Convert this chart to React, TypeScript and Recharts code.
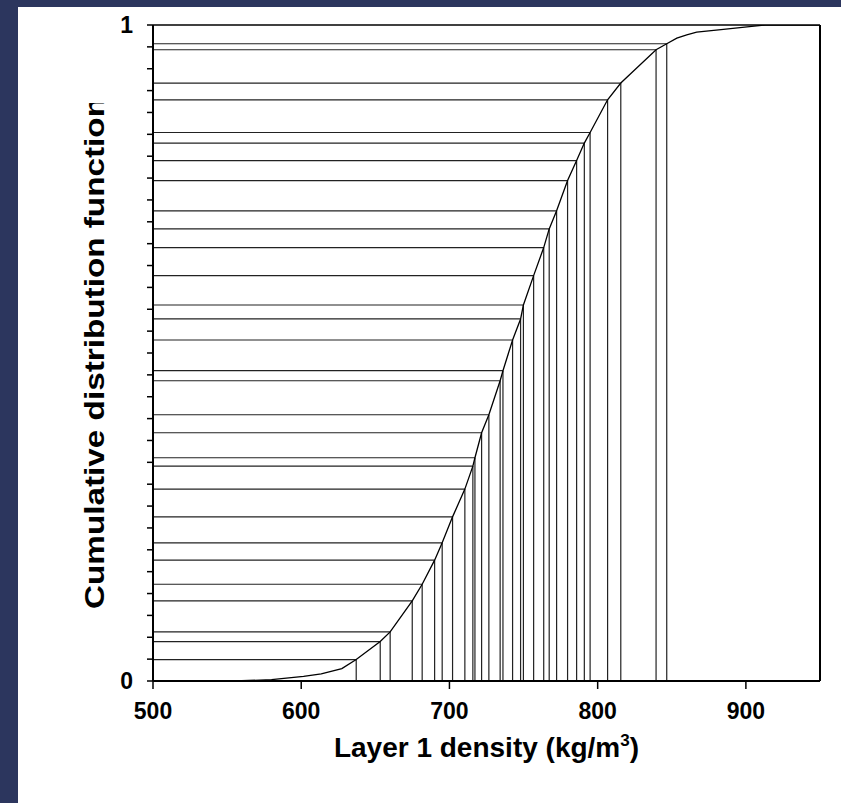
import React from "react";
import { LineChart, Line, XAxis, YAxis, ReferenceLine } from "recharts";

const sampleDensity = [
  637.1, 653.3, 660.0, 674.9, 681.6, 690.0, 695.1, 702.1, 710.4, 715.8,
  717.2, 721.7, 726.6, 734.2, 736.1, 742.6, 748.0, 749.9, 756.8, 763.6,
  767.3, 772.3, 779.7, 785.8, 791.0, 794.9, 806.7, 815.6, 839.4, 846.6,
];
const sampleCdf = [
  0.0327, 0.0601, 0.0748, 0.1221, 0.1475, 0.1842, 0.2106, 0.2502, 0.2925, 0.3276,
  0.3403, 0.3784, 0.4059, 0.4577, 0.473, 0.5198, 0.5519, 0.5732, 0.6179, 0.6607,
  0.6892, 0.7167, 0.7629, 0.7934, 0.82, 0.8361, 0.886, 0.9115, 0.9623, 0.9714,
];

// tails of the fitted curve outside the samples
const lowTailDensity = [500, 555, 580, 601.6, 613.5, 627.4];
const lowTailCdf = [0, 0, 0.002, 0.007, 0.011, 0.019];
const highTailDensity = [853.4, 860.1, 866.8, 883.2, 904, 913, 950];
const highTailCdf = [0.98, 0.985, 0.989, 0.993, 0.998, 1, 1];

const xTicks = [500, 600, 700, 800, 900];
const yTicks = Array.from({ length: 31 }, (_, i) => i / 30);

const curve = [
  ...lowTailDensity.map((x, i) => ({ x, p: lowTailCdf[i] })),
  ...sampleDensity.map((x, i) => ({ x, p: sampleCdf[i] })),
  ...highTailDensity.map((x, i) => ({ x, p: highTailCdf[i] })),
];

const FONT = "'Liberation Sans', Arial, sans-serif";
const NAVY = "#2c365e";

function XTitle(props: any) {
  const vb = props.viewBox;
  return (
    <text
      x={vb.x + vb.width / 2}
      y={vb.y + 76}
      textAnchor="middle"
      fontFamily={FONT}
      fontWeight="bold"
      fontSize={28}
      fill="#000"
    >
      Layer 1 density (kg/m
      <tspan dy={-11} fontSize={17}>3</tspan>
      <tspan dy={11}>)</tspan>
    </text>
  );
}

function YTitle(props: any) {
  const vb = props.viewBox;
  const cx = 104;
  const cy = vb.y + vb.height / 2;
  return (
    <g clipPath="url(#ytitle-clip)">
      <defs>
        <clipPath id="ytitle-clip">
          <rect x={0} y={103} width={150} height={700} />
        </clipPath>
      </defs>
      <text
        x={cx}
        y={cy}
        transform={`rotate(-90 ${cx} ${cy})`}
        textAnchor="middle"
        fontFamily={FONT}
        fontWeight="bold"
        fontSize={28}
        textLength={512}
        lengthAdjust="spacingAndGlyphs"
        fill="#000"
      >
        Cumulative distribution function
      </text>
    </g>
  );
}

export default function App() {
  return (
    <div style={{ position: "absolute", left: 0, top: 0, width: 841, height: 803, background: "#fff", overflow: "hidden" }}>
      <div style={{ position: "absolute", left: 0, top: 0, width: 18, height: 803, background: NAVY }} />
      <div style={{ position: "absolute", left: 0, top: 0, width: 841, height: 7, background: NAVY }} />
      <div style={{ position: "absolute", left: 0, top: 0 }}>
        <LineChart width={841} height={803} data={curve} margin={{ top: 25, right: 21, bottom: 0, left: 0 }}>
          <XAxis
            type="number"
            dataKey="x"
            domain={[500, 950]}
            ticks={xTicks}
            allowDataOverflow
            height={122}
            axisLine={{ stroke: "#000", strokeWidth: 2 }}
            tickLine={{ stroke: "#000", strokeWidth: 1.5 }}
            tickSize={8}
            tickMargin={14}
            tick={{ fill: "#000", fontSize: 23, fontWeight: "bold", fontFamily: FONT }}
            label={{ content: (p: any) => <XTitle {...p} /> }}
          />
          <YAxis
            type="number"
            domain={[0, 1]}
            ticks={yTicks}
            interval={0}
            allowDataOverflow
            width={153}
            axisLine={{ stroke: "#000", strokeWidth: 2 }}
            tickLine={{ stroke: "#000", strokeWidth: 1.5 }}
            tickSize={6}
            tickMargin={14}
            tickFormatter={(v: number) => (v === 0 ? "0" : v === 1 ? "1" : "")}
            tick={{ fill: "#000", fontSize: 23, fontWeight: "bold", fontFamily: FONT }}
            label={{ content: (p: any) => <YTitle {...p} /> }}
          />
          <ReferenceLine y={1} stroke="#000" strokeWidth={1.5} />
          <ReferenceLine x={950} stroke="#000" strokeWidth={2} />
          {sampleDensity.map((d, i) => (
            <ReferenceLine
              key={"h" + i}
              segment={[{ x: 500, y: sampleCdf[i] }, { x: d, y: sampleCdf[i] }]}
              stroke="#222"
              strokeWidth={1.2}
            />
          ))}
          {sampleDensity.map((d, i) => (
            <ReferenceLine
              key={"v" + i}
              segment={[{ x: d, y: sampleCdf[i] }, { x: d, y: 0 }]}
              stroke="#222"
              strokeWidth={1.2}
            />
          ))}
          <Line
            type="linear"
            dataKey="p"
            stroke="#000"
            strokeWidth={1.3}
            dot={false}
            isAnimationActive={false}
          />
        </LineChart>
      </div>
    </div>
  );
}
